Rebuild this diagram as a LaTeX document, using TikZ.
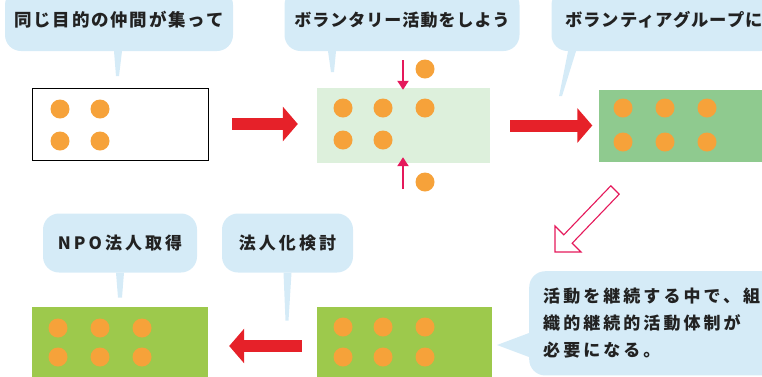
\documentclass[tikz,border=0pt]{standalone}
\usepackage{fontspec}
\usepackage{tikz}
\usetikzlibrary{arrows.meta,positioning}
\newfontfamily\jpfont{Noto Sans CJK JP}[LetterSpace=6]
\newfontfamily\jpwide{Noto Sans CJK JP}[LetterSpace=18]
\definecolor{Bub}{HTML}{D5EBF7}
\definecolor{Ink}{HTML}{222222}
\definecolor{Arr}{HTML}{E62129}
\definecolor{Pink}{HTML}{E5195B}
\definecolor{Dot}{HTML}{F6A23A}
\definecolor{Mint}{HTML}{DDF0DC}
\definecolor{Leaf}{HTML}{8FCA8F}
\definecolor{Lime}{HTML}{9DC94C}

\begin{document}
\begin{tikzpicture}[x=1pt,y=-1pt,
  bub/.style={fill=Bub,rounded corners=16pt,text=Ink,inner sep=0pt},
  stage/.style={minimum width=176pt,minimum height=72pt,inner sep=0pt},
  bigarrow/.style={Arr,line width=12pt,-{Triangle[length=15pt,width=34pt]}},
  tick/.style={Pink,line width=2.2pt,-{Triangle[length=9pt,width=11pt]}}]
  \useasboundingbox (0,0) rectangle (762,376);
  \clip (0,0) rectangle (762,376);
  % stages
  \node[stage,draw=black,line width=0.9pt] (s1) at (120,124) {};
  \node[stage,fill=Mint,minimum width=173pt,minimum height=75pt] (s2) at (403.5,125.5) {};
  \node[stage,fill=Leaf] (s3) at (686.5,126) {};
  \node[stage,fill=Lime,minimum width=175pt,minimum height=78pt] (s4) at (404.5,346) {};
  \node[stage,fill=Lime,minimum height=78pt] (s5) at (120,346) {};
  \foreach \x/\y in {60/109,100/109,60/141,100/141,
    343/108,383/108,425/108,343/140,383/140,425/69,425/182,
    623/108,665/108,707/108,623/142,665/142,707/142,
    343/327,383/327,425/327,343/357,383/357,425/357,
    58/328,100/328,142/328,58/357,100/357,142/357}
    \fill[Dot] (\x,\y) circle (9.5);
  % arrows
  \draw[bigarrow,shorten <=24pt,shorten >=19pt] (s1.east) -- (s1.east -| s2.west);
  \draw[bigarrow,shorten <=20pt,shorten >=6pt] (s2.east) -- (s2.east -| s3.west);
  \draw[bigarrow,shorten <=15pt,shorten >=21pt] (s4.west) -- (s4.west -| s5.east);
  \coordinate (in1) at (403,60);
  \coordinate (in2) at (403,189);
  \draw[tick,shorten >=-2pt] (in1) -- (in1 |- s2.north);
  \draw[tick,shorten >=-6pt] (in2) -- (in2 |- s2.south);
  \draw[Pink,line width=1.1pt,fill=white,line join=miter]
    (555,252) -- (555,226) -- (563.8,234.8) -- (610.8,185.8) -- (619.2,194.2)
    -- (572.2,243.2) -- (581,252) -- cycle;
  % bubbles
  \node[bub,minimum width=228pt,minimum height=62pt,font=\jpfont\addfontfeature{LetterSpace=10}\bfseries\fontsize{17.5}{20}\selectfont] (q1) at (119,20) {同じ目的の仲間が集って};
  \node[bub,minimum width=235pt,minimum height=62pt,font=\jpfont\bfseries\fontsize{17}{20}\selectfont] (q2) at (402,20) {ボランタリー活動をしよう};
  \node[bub,minimum width=225pt,minimum height=62pt,font=\jpfont\bfseries\fontsize{17.3}{20}\selectfont] (q3) at (664,20) {ボランティアグループに};
  \node[bub,minimum width=154pt,minimum height=59pt,font=\jpwide\bfseries\fontsize{17}{20}\selectfont] (q4) at (120,243) {NPO法人取得};
  \node[bub,minimum width=131pt,minimum height=59pt,font=\jpwide\bfseries\fontsize{17}{20}\selectfont] (q5) at (287.5,243) {法人化検討};
  \node[bub,anchor=north west,inner xsep=14pt,inner ysep=17pt,text width=225pt,align=left,
    font=\jpwide\bfseries\fontsize{17}{27}\selectfont] (q6) at (529,271)
    {活動を継続する中で、組\\織的継続的活動体制が\\必要になる。};
  \fill[Bub] ([xshift=-5pt]q1.south) -- ([xshift=3pt]q1.south) -- ([xshift=0pt,yshift=-25pt]q1.south) -- ([xshift=-3pt,yshift=-25pt]q1.south) -- cycle;
  \fill[Bub] ([xshift=-74pt]q2.south) -- ([xshift=-66pt]q2.south) -- ([xshift=-68pt,yshift=-21pt]q2.south) -- ([xshift=-71pt,yshift=-21pt]q2.south) -- cycle;
  \fill[Bub] ([xshift=-96pt]q3.south) -- ([xshift=-88pt]q3.south) -- ([xshift=-102pt,yshift=-45pt]q3.south) -- ([xshift=-105pt,yshift=-45pt]q3.south) -- cycle;
  \fill[Bub] ([xshift=-4pt]q4.south) -- ([xshift=4pt]q4.south) -- ([xshift=2pt,yshift=-25pt]q4.south) -- ([xshift=-2pt,yshift=-25pt]q4.south) -- cycle;
  \fill[Bub] ([xshift=-4pt]q5.south) -- ([xshift=4pt]q5.south) -- ([xshift=1pt,yshift=-48pt]q5.south) -- ([xshift=-2pt,yshift=-48pt]q5.south) -- cycle;
  \coordinate (t6) at (497,345);
  \fill[Bub] ([yshift=-62pt]q6.north west) -- (t6) -- ([yshift=-86pt]q6.north west) -- cycle;
\end{tikzpicture}
\end{document}
